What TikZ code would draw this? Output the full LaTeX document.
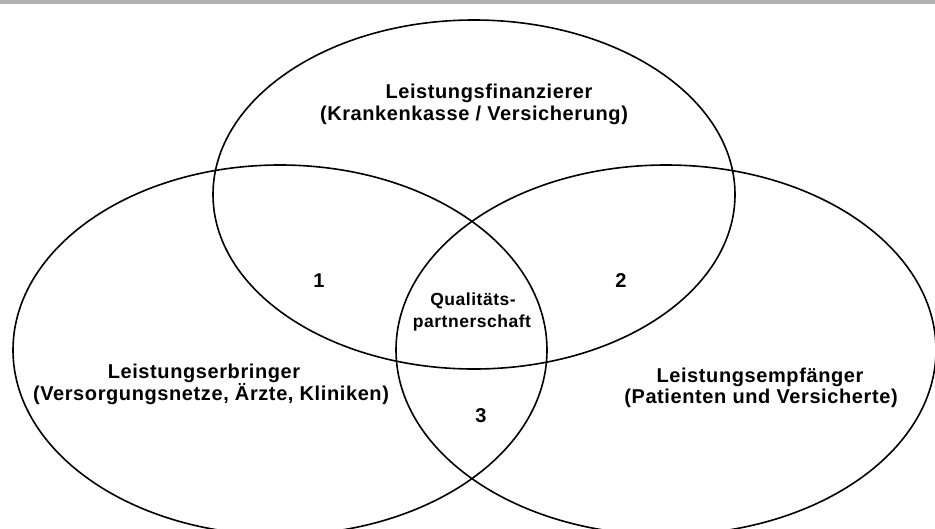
\documentclass[tikz,border=0pt]{standalone}
\usepackage{fontspec}
\setmainfont[LetterSpace=3]{Liberation Sans}
\definecolor{barGray}{RGB}{178,178,178}
\begin{document}
\begin{tikzpicture}[x=1pt,y=-1pt,
  lbl/.style={font=\fontsize{20}{24}\selectfont\bfseries, anchor=base, inner sep=0pt},
  qlbl/.style={font=\fontsize{17.5}{21}\selectfont\bfseries, anchor=base, inner sep=0pt},
  venn/.style={draw=black, line width=1.6pt}]
\clip (0,0) rectangle (935,528);
\fill[barGray] (0,0) rectangle (935,4);
\draw[venn] (474,194.5) ellipse [x radius=261pt, y radius=174.5pt];
\draw[venn] (280,350) ellipse [x radius=267pt, y radius=185pt];
\draw[venn] (666,350) ellipse [x radius=270pt, y radius=185pt];
% top set
\node[lbl] (fin1) at (489,98) {Leistungsfinanzierer};
\node[lbl] (fin2) at (474,120) {(Krankenkasse / Versicherung)};
% left set
\node[lbl] (erb1) at (204,378) {Leistungserbringer};
\node[lbl] (erb2) at (211,400) {(Versorgungsnetze, Ärzte, Kliniken)};
% right set
\node[lbl] (emp1) at (760,382) {Leistungsempfänger};
\node[lbl] (emp2) at (761,403) {(Patienten und Versicherte)};
% intersections
\node[lbl] (n1) at (319,287) {1};
\node[lbl] (n2) at (621,287) {2};
\node[lbl] (n3) at (481,422) {3};
\node[qlbl] (q1) at (473,305) {Qualitäts-};
\node[qlbl] (q2) at (472,327) {partnerschaft};
\end{tikzpicture}
\end{document}
